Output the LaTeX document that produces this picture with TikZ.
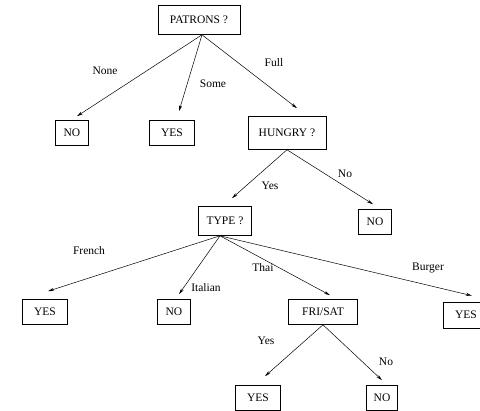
\documentclass[tikz,border=0pt]{standalone}
\usepackage{fontspec}
\setmainfont{Liberation Serif}
\usetikzlibrary{positioning,arrows.meta}

\begin{document}
\begin{tikzpicture}[x=1pt,y=-1pt,font=\fontsize{11.5}{13}\selectfont]
  \tikzstyle{box} = [rectangle, draw, line width=0.6pt, inner sep=0pt, minimum height=25pt]
  \tikzstyle{lbl} = [inner sep=0pt]
  \tikzstyle{arr} = [-{Stealth[length=6pt,width=3pt]}, line width=0.5pt]

  \useasboundingbox (0,0) rectangle (480,411);

  \node[box, minimum width=82pt, minimum height=29pt] (patrons) at (199,20) {PATRONS ?};
  \node[box, minimum width=33pt] (no1) at (72,133) {NO};
  \node[box, minimum width=45pt] (yes1) at (172,133) {YES};
  \node[box, minimum width=78pt, minimum height=33pt] (hungry) at (287,133) {HUNGRY ?};
  \node[box, minimum width=53pt, minimum height=29pt] (type) at (225,221) {TYPE ?};
  \node[box, minimum width=33pt] (no2) at (375,222) {NO};
  \node[box, minimum width=45pt] (yes2) at (45,312) {YES};
  \node[box, minimum width=33pt] (no3) at (174,312) {NO};
  \node[box, minimum width=69pt] (frisat) at (323,312) {FRI/SAT};
  \node[box, minimum width=45pt, minimum height=26pt] (yes3) at (466,315) {YES};
  \node[box, minimum width=45pt] (yes4) at (258,398) {YES};
  \node[box, minimum width=31pt] (no4) at (382,398) {NO};

  \node[lbl] (none) at (105,71) {None};
  \node[lbl] (some) at (213,84) {Some};
  \node[lbl] (full) at (274,63) {Full};
  \node[lbl] (hyes) at (270,186) {Yes};
  \node[lbl] (hno) at (345,174) {No};
  \node[lbl] (french) at (89,251) {French};
  \node[lbl] (italian) at (206,288) {Italian};
  \node[lbl] (thai) at (263,268) {Thai};
  \node[lbl] (burger) at (428,268) {Burger};
  \node[lbl] (fyes) at (266,341) {Yes};
  \node[lbl] (fno) at (386,362) {No};

  \draw[arr] ([xshift=3pt]patrons.south) -- ([xshift=5pt,yshift=4pt]no1.north);
  \draw[arr] ([xshift=3pt]patrons.south) -- ([xshift=7pt,yshift=9pt]yes1.north);
  \draw[arr] ([xshift=3pt]patrons.south) -- ([xshift=10pt,yshift=8pt]hungry.north);

  \draw[arr] (hungry.south) -- ([xshift=7pt,yshift=8pt]type.north);
  \draw[arr] (hungry.south) -- ([xshift=-2pt,yshift=5pt]no2.north);

  \draw[arr] ([xshift=-5pt]type.south) -- ([xshift=3pt,yshift=8pt]yes2.north);
  \draw[arr] ([xshift=-5pt]type.south) -- ([xshift=5pt,yshift=5pt]no3.north);
  \draw[arr] ([xshift=-5pt]type.south) -- ([xshift=7pt,yshift=4pt]frisat.north);
  \draw[arr] ([xshift=-5pt]type.south) -- ([xshift=6pt,yshift=6pt]yes3.north);

  \draw[arr] (frisat.south) -- ([xshift=7pt,yshift=9pt]yes4.north);
  \draw[arr] (frisat.south) -- ([yshift=5pt]no4.north);

\end{tikzpicture}
\end{document}
